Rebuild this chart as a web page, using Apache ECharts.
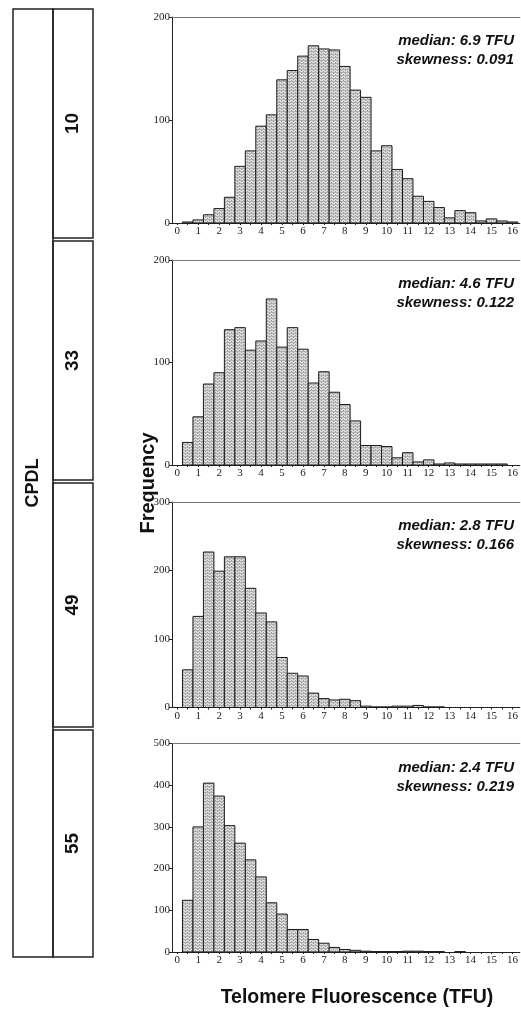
<!DOCTYPE html>
<html>
<head>
<meta charset="utf-8">
<script src="https://cdn.jsdelivr.net/npm/echarts@6/dist/echarts.min.js"></script>
<style>
  html, body { margin: 0; padding: 0; background: #ffffff; }
  #chart { width: 521px; height: 1013px; }
</style>
</head>
<body>
<div id="chart"></div>
<script>
// Histogram bin centres (TFU), bins are 0.5 TFU wide
const binCenters = [0.5, 1, 1.5, 2, 2.5, 3, 3.5, 4, 4.5, 5, 5.5, 6, 6.5, 7, 7.5, 8,
                    8.5, 9, 9.5, 10, 10.5, 11, 11.5, 12, 12.5, 13, 13.5, 14, 14.5, 15, 15.5, 16];
const tickLabels = [0, 1, 2, 3, 4, 5, 6, 7, 8, 9, 10, 11, 12, 13, 14, 15, 16];

// Frequencies per bin for each CPDL
const freqCpdl10 = [1, 3, 8, 14, 25, 55, 70, 94, 105, 139, 148, 162, 172, 169, 168, 152,
                    129, 122, 70, 75, 52, 43, 26, 21, 15, 5, 12, 10, 2, 4, 2, 1];
const freqCpdl33 = [22, 47, 79, 90, 132, 134, 112, 121, 162, 115, 134, 113, 80, 91, 71, 59,
                    43, 19, 19, 18, 7, 12, 3, 5, 1, 2, 1, 1, 1, 1, 1, 0];
const freqCpdl49 = [55, 133, 227, 199, 220, 220, 174, 138, 125, 73, 50, 46, 21, 13, 11, 12,
                    10, 2, 1, 1, 2, 2, 3, 1, 1, 0, 0, 0, 0, 0, 0, 0];
const freqCpdl55 = [124, 300, 405, 374, 303, 261, 221, 180, 118, 91, 54, 54, 30, 21, 11, 6,
                    4, 2, 1, 1, 1, 2, 2, 1, 1, 0, 1, 0, 0, 0, 0, 0];

const cpdlLabels = ['10', '33', '49', '55'];
const medians = ['6.9', '4.6', '2.8', '2.4'];
const skewness = ['0.091', '0.122', '0.166', '0.219'];
const yMaxima = [200, 200, 300, 500];

const panels = [freqCpdl10, freqCpdl33, freqCpdl49, freqCpdl55];

// panel placement: [top, bottom] of each plot area in px
const panelBox = [[17, 223], [260, 465], [502, 707.5], [743.5, 952]];
const numberBox = [[9, 238], [241, 480], [483, 727], [730, 957]];

// stippled grey fill used for the bars
const patCanvas = document.createElement('canvas');
patCanvas.width = 4; patCanvas.height = 3;
(function () {
  const c = patCanvas.getContext('2d');
  c.fillStyle = '#dcdcdc'; c.fillRect(0, 0, 4, 3);
  c.fillStyle = '#b0b0b0'; c.fillRect(0, 0, 4, 1);
  c.fillStyle = '#a0a0a0'; c.fillRect(1, 1, 1, 1); c.fillRect(3, 2, 1, 1);
})();
const barFill = { image: patCanvas, repeat: 'repeat' };

const serif = 'Liberation Serif';
const axisColor = '#222';

const grids = [], xAxes = [], yAxes = [], series = [];
const halfTicks = tickLabels.flatMap(t => t < 16 ? [t, t + 0.5] : [t]);

panels.forEach((freq, i) => {
  const [top, bottom] = panelBox[i];
  grids.push({ left: 172, right: 0, top: top, height: bottom - top });
  // bottom axis with labels
  xAxes.push({
    type: 'value', gridIndex: i, min: -0.25, max: 16.35, position: 'bottom',
    axisLine: { show: true, onZero: false, lineStyle: { color: axisColor, width: 1 } },
    axisTick: { show: true, customValues: halfTicks, length: 2, lineStyle: { color: axisColor } },
    axisLabel: { customValues: tickLabels, fontFamily: serif, fontSize: 11, color: '#222', margin: 3 },
    splitLine: { show: false }
  });
  // top frame line
  xAxes.push({
    type: 'value', gridIndex: i, min: -0.25, max: 16.35, position: 'top',
    axisLine: { show: true, onZero: false, lineStyle: { color: '#777', width: 1 } },
    axisTick: { show: false }, axisLabel: { show: false }, splitLine: { show: false }
  });
  yAxes.push({
    type: 'value', gridIndex: i, min: 0, max: yMaxima[i], interval: 100, position: 'left',
    axisLine: { show: true, onZero: false, lineStyle: { color: axisColor, width: 1 } },
    axisTick: { show: true, length: 3, lineStyle: { color: axisColor } },
    axisLabel: { fontFamily: serif, fontSize: 11, color: '#222', margin: 2 },
    splitLine: { show: false }
  });
  series.push({
    type: 'custom',
    xAxisIndex: i * 2, yAxisIndex: i,
    data: binCenters.map((x, k) => [x, freq[k]]),
    encode: { x: 0, y: 1 },
    renderItem: function (params, api) {
      const x = api.value(0), v = api.value(1);
      if (!v) return null;
      const p0 = api.coord([x - 0.25, 0]);
      const p1 = api.coord([x + 0.25, v]);
      return {
        type: 'rect',
        shape: { x: p0[0], y: p1[1], width: p1[0] - p0[0], height: p0[1] - p1[1] },
        style: { fill: barFill, stroke: '#1a1a1a', lineWidth: 1 }
      };
    }
  });
});

// side labels, frames and annotations
const graphics = [];
graphics.push({
  type: 'rect', shape: { x: 13, y: 9, width: 40, height: 948 },
  style: { fill: 'none', stroke: '#222', lineWidth: 1.5 }
});
graphics.push({
  type: 'text', x: 33, y: 483, rotation: Math.PI / 2,
  style: { text: 'CPDL', font: 'bold 18px "Liberation Sans"', fill: '#111', align: 'center', verticalAlign: 'middle' }
});
numberBox.forEach(([t, b], i) => {
  graphics.push({
    type: 'rect', shape: { x: 53, y: t, width: 40, height: b - t },
    style: { fill: 'none', stroke: '#222', lineWidth: 1.5 }
  });
  graphics.push({
    type: 'text', x: 73, y: (t + b) / 2, rotation: Math.PI / 2,
    style: { text: cpdlLabels[i], font: 'bold 19px "Liberation Sans"', fill: '#111', align: 'center', verticalAlign: 'middle' }
  });
  const top = panelBox[i][0];
  graphics.push({
    type: 'text', x: 514, y: top + 24,
    style: { text: 'median: ' + medians[i] + ' TFU', font: 'italic bold 15px "Liberation Sans"', fill: '#111', align: 'right', verticalAlign: 'middle' }
  });
  graphics.push({
    type: 'text', x: 514, y: top + 43,
    style: { text: 'skewness: ' + skewness[i], font: 'italic bold 15px "Liberation Sans"', fill: '#111', align: 'right', verticalAlign: 'middle' }
  });
});
graphics.push({
  type: 'text', x: 148, y: 483, rotation: Math.PI / 2,
  style: { text: 'Frequency', font: 'bold 20px "Liberation Sans"', fill: '#111', align: 'center', verticalAlign: 'middle' }
});
graphics.push({
  type: 'text', x: 357, y: 998,
  style: { text: 'Telomere Fluorescence (TFU)', font: 'bold 19.5px "Liberation Sans"', fill: '#111', align: 'center', verticalAlign: 'middle' }
});

const chart = echarts.init(document.getElementById('chart'), null, { renderer: 'canvas' });
chart.setOption({
  animation: false,
  backgroundColor: '#ffffff',
  grid: grids,
  xAxis: xAxes,
  yAxis: yAxes,
  series: series,
  graphic: graphics
});
</script>
</body>
</html>
